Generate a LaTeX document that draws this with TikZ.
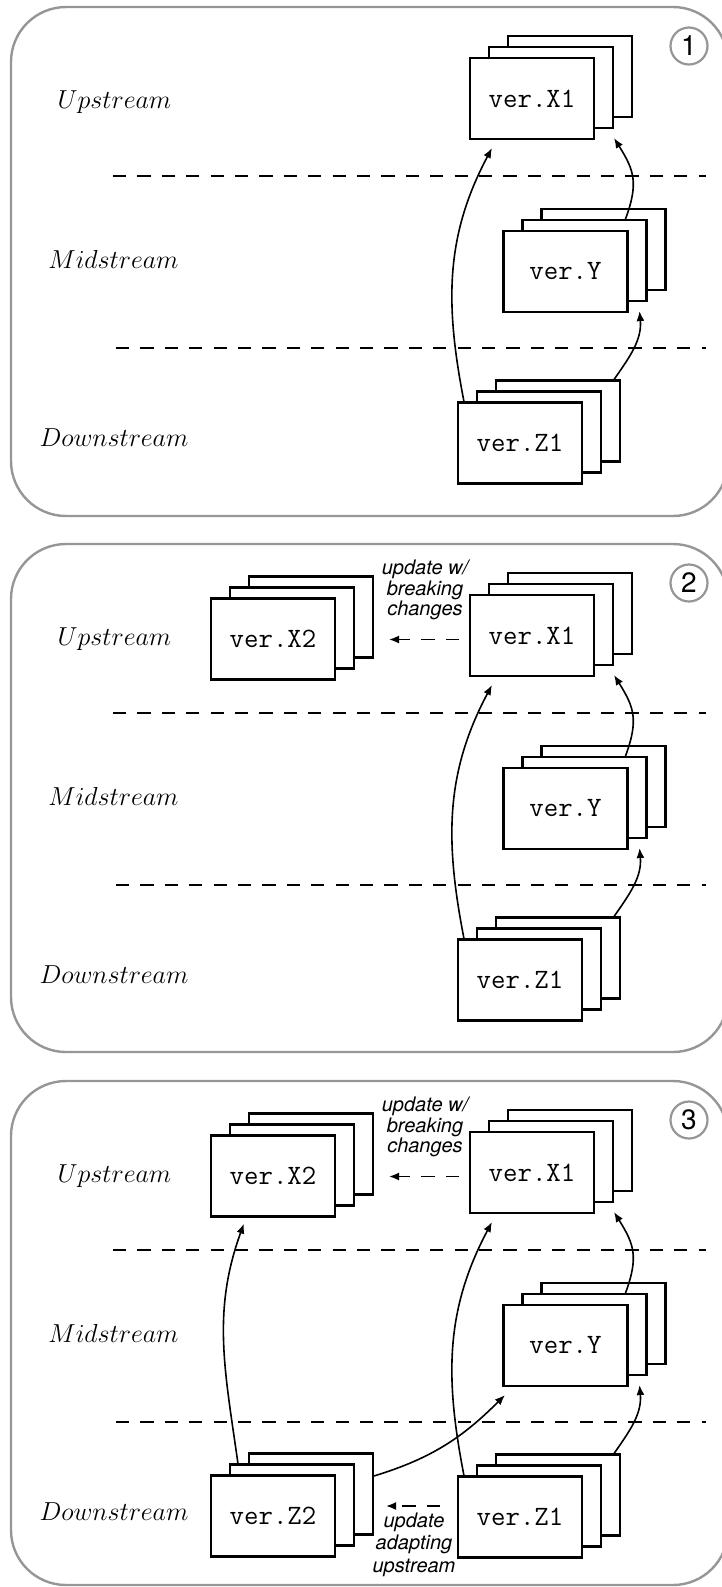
\RequirePackage{fix-cm}
\documentclass[tikz,border=0pt]{standalone}
\usepackage{fontspec}
\newfontfamily\helv{TeX Gyre Heros}
\usetikzlibrary{arrows.meta,calc}

\definecolor{framegray}{RGB}{150,150,150}

\tikzset{
  frame/.style={draw=framegray, line width=1.2pt, rounded corners=27.5pt},
  stepnum/.style={circle, draw=framegray, line width=1.1pt, minimum size=18.5pt, inner sep=0pt, font=\fontsize{14}{15}\helv},
  stream/.style={anchor=base, font=\fontsize{13}{15}\selectfont},
  verbox/.style={draw, fill=white, line width=1.05pt, minimum width=62pt, minimum height=40.5pt, inner sep=0pt, font=\fontsize{14}{16}\selectfont\ttfamily},
  sepline/.style={line width=1pt, dash pattern=on 6.6pt off 5.6pt},
  link/.style={line width=0.8pt, -{Latex[length=5pt,width=4pt]}},
  update/.style={link, dash pattern=on 6.6pt off 5.6pt},
  note/.style={align=center, inner sep=0pt, font=\fontsize{10}{10.3}\helv\itshape},
}

% stack of three versions: name, centre of the front box, version
\newcommand{\verstack}[3]{%
  \node[verbox] (#1-b) at ($(#2)+(38,22)$) {};
  \node[verbox] (#1-m) at ($(#2)+(19,11)$) {};
  \node[verbox] (#1) at (#2) {ver.#3};
}

\begin{document}
\begin{tikzpicture}[x=0.5pt,y=0.5pt]
  \useasboundingbox (0,0) rectangle (722,-1587);
  \foreach \p/\ybot in {1/516, 2/515, 3/511} {
    \begin{scope}[yshift={-(\p-1)*268.5pt}]
      % frame and step number
      \draw[frame] (11,-7) rectangle (728,-\ybot);
      \node[stepnum] (num-\p) at (689,-46) {\p};

      % levels
      \node[stream] (up-\p) at (114.5,-108) {$Upstream$};
      \node[stream] (mid-\p) at (113.5,-268) {$Midstream$};
      \node[stream] (down-\p) at (114,-446) {$Downstream$};
      \draw[sepline] (113,-176) -- (706,-176);
      \draw[sepline] (116,-348) -- (706,-348);

      % versions
      \verstack{x1-\p}{532,-98.5}{X1}
      \verstack{y-\p}{565.5,-271.5}{Y}
      \verstack{z1-\p}{520,-443}{Z1}

      % dependencies
      \draw[link] ($(z1-\p.north west)+(7,0)$) to[out=101,in=-118] ($(x1-\p.south west)+(23,-8)$);
      \draw[link] ($(y-\p.north east)+(-3,11)$) to[out=70,in=-58,looseness=1.2] ($(x1-\p.south east)+(19,2)$);
      \draw[link] ($(z1-\p.north east)+(31,22)$) to[out=55,in=-85] ($(y-\p.south east)+(11,2)$);

      \ifnum\p>1
        \verstack{x2-\p}{273,-102}{X2}
        \draw[update] ($(x1-\p.west)+(-10,-4)$) -- ($(x2-\p.east)+(53,-0.5)$);
        \node[note] (brk-\p) at (425,-53) {update w/\\breaking\\changes};
      \fi

      \ifnum\p>2
        \verstack{z2-\p}{273,-442}{Z2}
        \draw[link] ($(z2-\p.north west)+(28,11)$) to[out=98,in=-110] ($(x2-\p.south west)+(34,-6)$);
        \draw[link] ($(z2-\p.north east)+(38,-1.5)$) to[out=17,in=-135] ($(y-\p.south west)+(2.5,-8)$);
        \draw[update] ($(z1-\p.west)+(-17,11)$) -- ($(z2-\p.east)+(50,10)$);
        \node[note, font=\fontsize{10}{11.25}\helv\itshape] (adp-\p) at (414,-470.5) {update\\adapting\\upstream};
      \fi
    \end{scope}
  }
\end{tikzpicture}
\end{document}
